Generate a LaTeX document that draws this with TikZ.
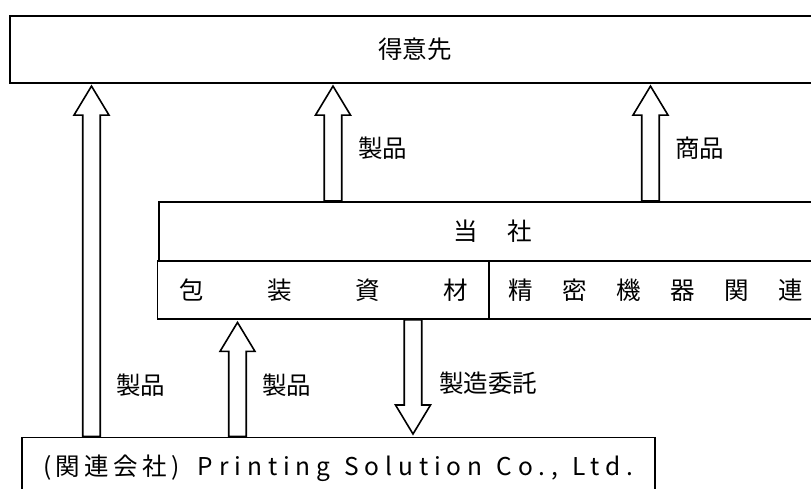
\documentclass[tikz,border=0pt]{standalone}
\usepackage{fontspec}
\setmainfont{Noto Sans CJK JP}
\usetikzlibrary{calc}
\tikzset{
  box/.style={draw, line width=1.6pt, inner sep=0pt, anchor=north west, align=center},
  lbl/.style={inner sep=0pt},
  fatarrow/.style={draw, line width=1.6pt, fill=white, line join=miter},
}
\newcommand\fatarrow[2]{%
  \draw[fatarrow] let \p1=#1, \p2=#2, \n1={sign(\y2-\y1)} in
    (\x1-8.75pt,\y1) -- (\x1-8.75pt,\y2-\n1*31.5pt) -- (\x1-17.5pt,\y2-\n1*31.5pt)
    -- (\x1,\y2-\n1*2.5pt) -- (\x1+17.5pt,\y2-\n1*31.5pt) -- (\x1+8.75pt,\y2-\n1*31.5pt)
    -- (\x1+8.75pt,\y1) -- cycle;}
\begin{document}
\begin{tikzpicture}[x=1pt, y=-1pt, font=\fontsize{24.5}{28}\selectfont]
\useasboundingbox (0,0) rectangle (811,488);
\clip (0,0) rectangle (811,488);
\fill[white] (0,0) rectangle (811,488);
% boxes
\node[box, minimum width=810pt, minimum height=67pt] (cust) at (9,15) {得意先};
\node[box, minimum width=668pt, minimum height=59pt] (tosha) at (158.3,201) {当\hspace{29.5pt}社};
\node[box, minimum width=331.6pt, minimum height=58.3pt] (pkg) at (156.7,260) {包\hspace{63.5pt}装\hspace{63.5pt}資\hspace{63.5pt}材};
\node[box, minimum width=333.4pt, minimum height=58.3pt] (prec) at (488.3,260) {精\hspace{29.5pt}密\hspace{29.5pt}機\hspace{29.5pt}器\hspace{29.5pt}関\hspace{29.5pt}連};
\node[box, minimum width=633pt, minimum height=61pt] (low) at (21,436.5)
  {{\addfontfeature{LetterSpace=18}(関連会社)}\hspace{18pt}{\addfontfeature{LetterSpace=24}Printing\hspace{14pt}Solution\hspace{14pt}Co.,\hspace{14pt}Ltd.}};
% arrows
\fatarrow{(91.5,0 |- low.north)}{(91.5,0 |- cust.south)}
\fatarrow{(333,0 |- tosha.north)}{(333,0 |- cust.south)}
\fatarrow{(650.5,0 |- tosha.north)}{(650.5,0 |- cust.south)}
\fatarrow{(237.5,0 |- low.north)}{(237.5,0 |- pkg.south)}
\fatarrow{(413,0 |- pkg.south)}{(413,0 |- low.north)}
% labels
\node[lbl] (l1) at (382.5,148) {製品};
\node[lbl] (l2) at (699.5,148) {商品};
\node[lbl] (l3) at (140.5,385) {製品};
\node[lbl] (l4) at (286.5,385) {製品};
\node[lbl] (l5) at (488,383) {製造委託};
\end{tikzpicture}
\end{document}
